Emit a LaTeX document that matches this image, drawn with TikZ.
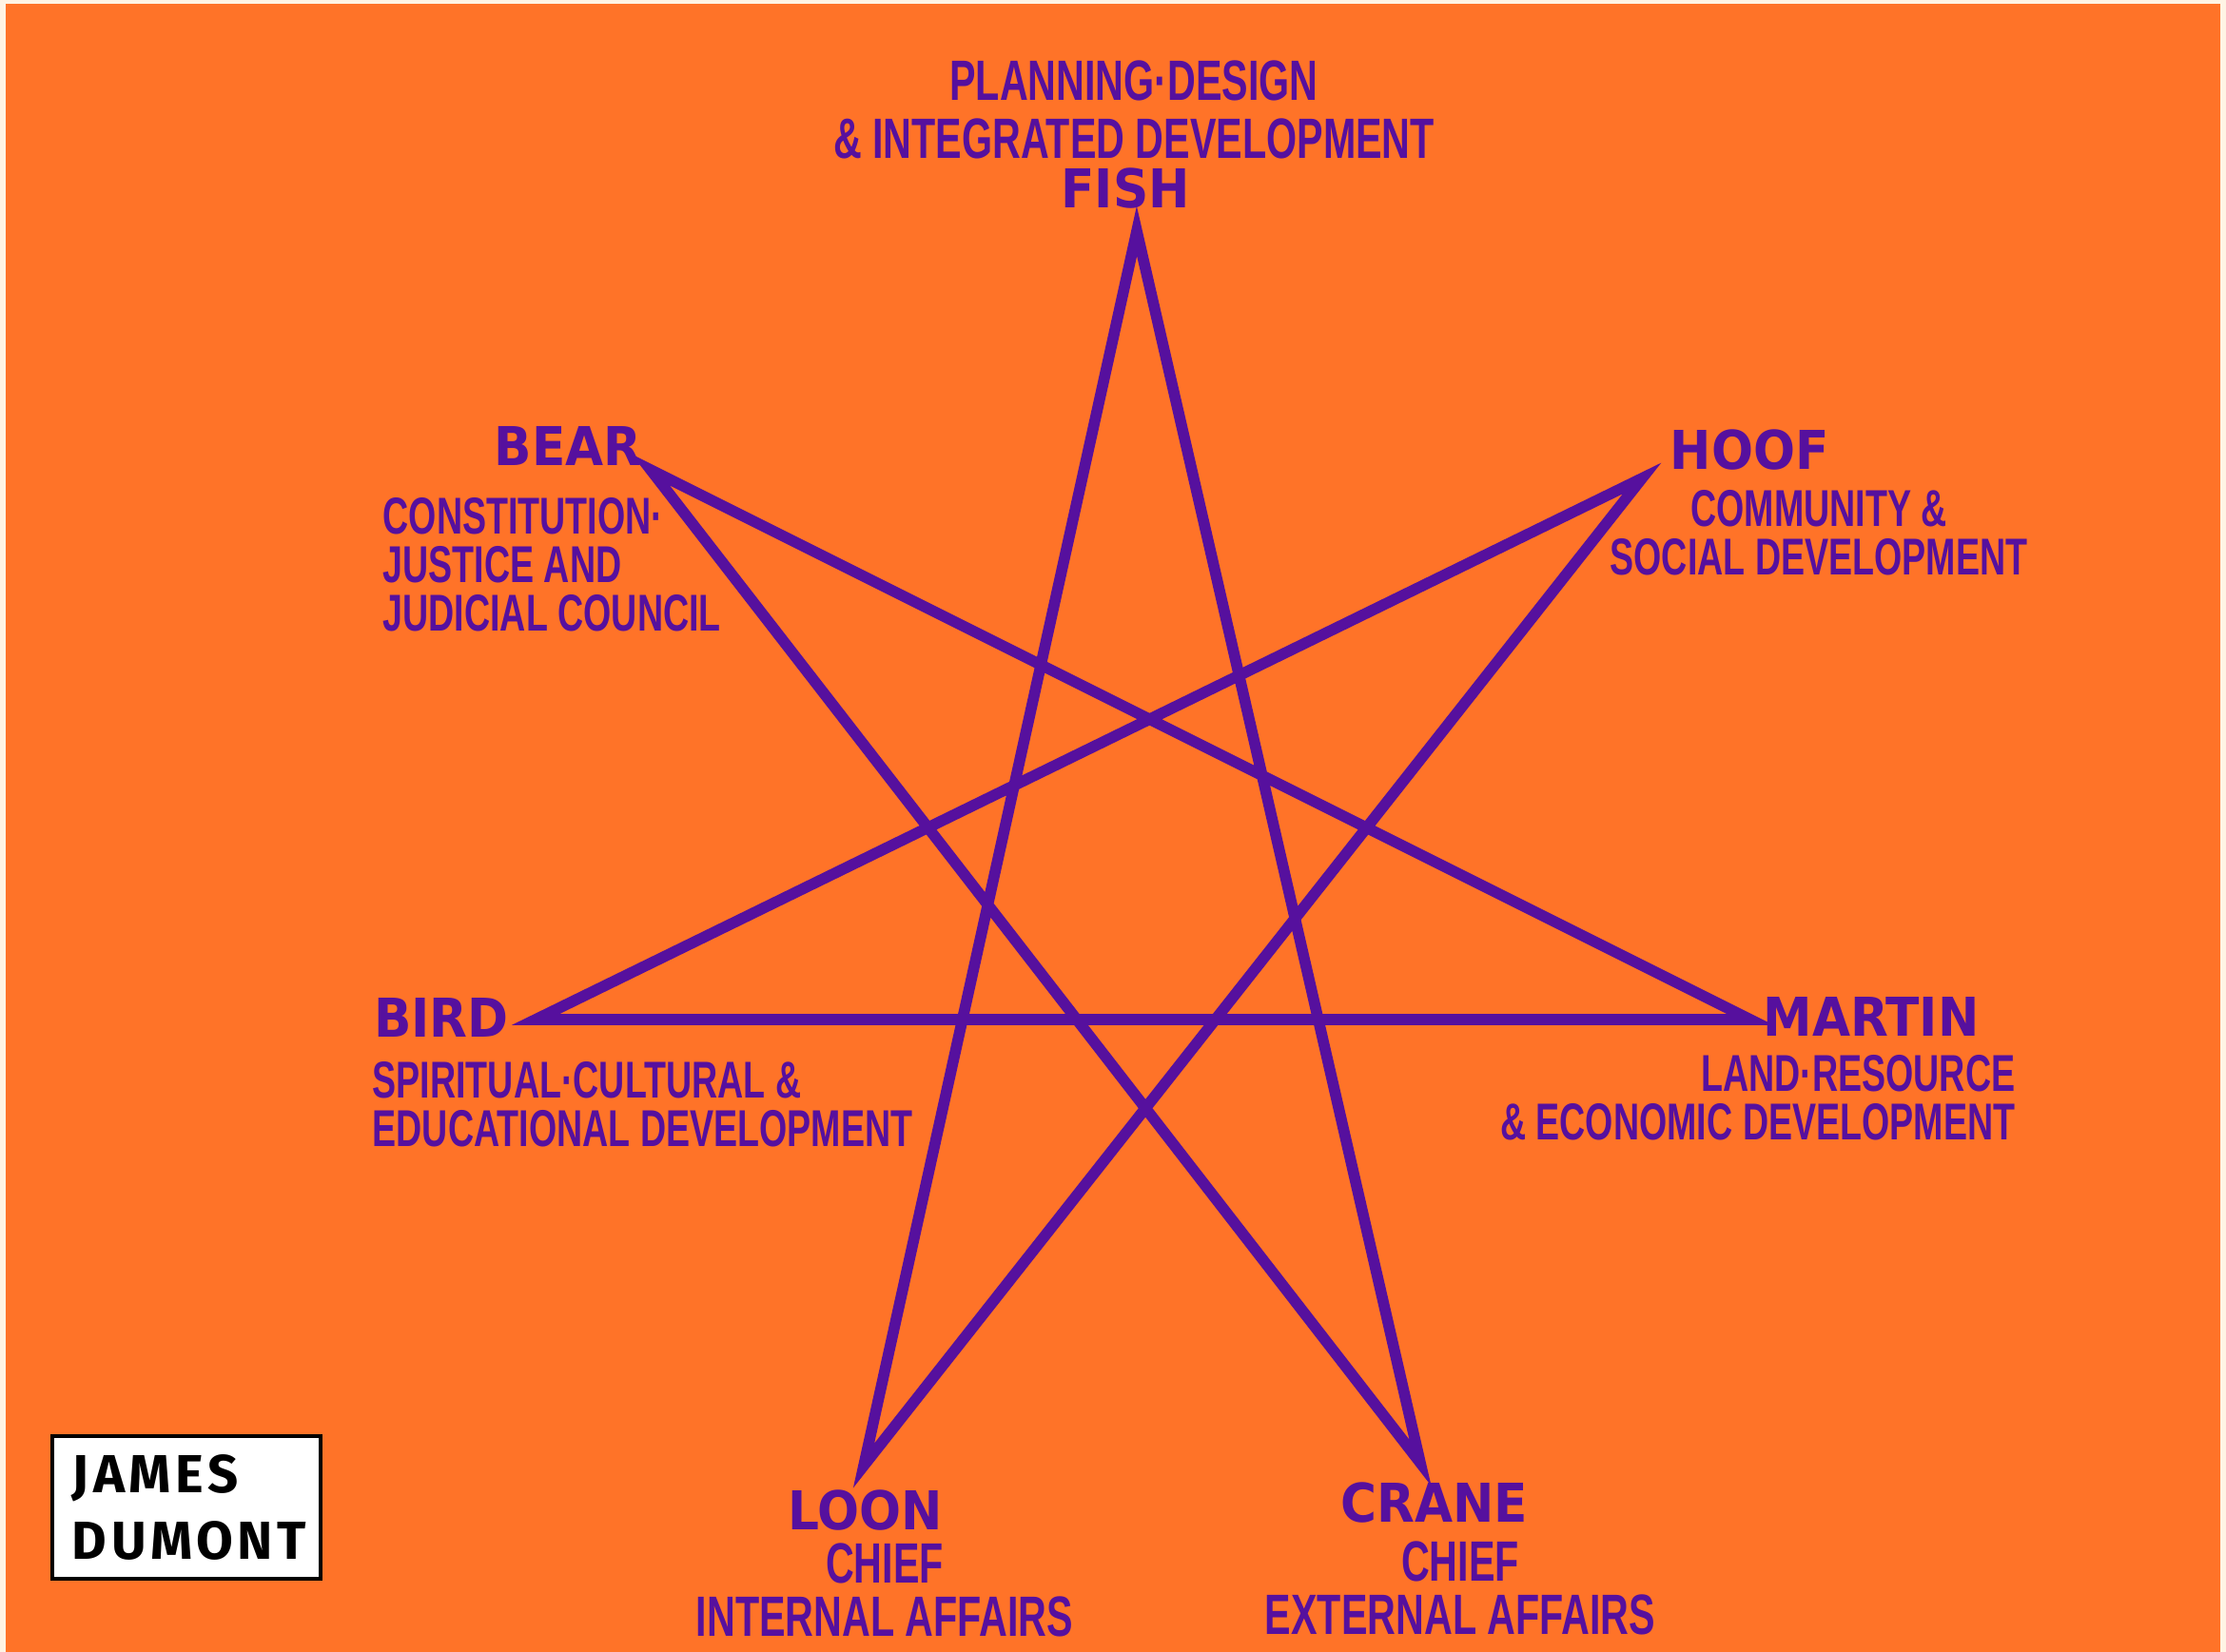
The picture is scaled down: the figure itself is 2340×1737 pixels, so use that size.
\documentclass[tikz,border=0pt]{standalone}
\usepackage{fontspec}
\usepackage{tikz}
\setmainfont{Liberation Sans}
\newfontfamily\namefont[FakeStretch=0.92]{DejaVu Sans}
\newfontfamily\descfont[FakeStretch=0.69]{Liberation Sans}
\newfontfamily\signfont[LetterSpace=8]{Fira Sans}
\definecolor{bgorange}{RGB}{255,115,40}
\definecolor{inkpurple}{RGB}{86,16,158}
\definecolor{edgecream}{RGB}{255,244,228}
\tikzset{
  starline/.style={draw=inkpurple, line width=3.3pt, line join=miter},
  animal/.style={text=inkpurple, inner sep=0pt, font=\namefont\bfseries\fontsize{16}{18}\selectfont},
  duty/.style={text=inkpurple, inner sep=0pt, font=\descfont\bfseries\fontsize{15.5}{14.5}\selectfont},
  bigduty/.style={duty, font=\descfont\bfseries\fontsize{17}{#1}\selectfont},
  signbox/.style={draw=black, line width=1.1pt, fill=white, minimum width=2.82cm, minimum height=1.5cm, inner sep=0pt, align=left, text width=2.4cm, font=\signfont\bfseries\fontsize{16}{20}\selectfont}
}

\begin{document}
\begin{tikzpicture}[x=0.01cm,y=-0.01cm]
    \useasboundingbox (0,0) rectangle (2340,1737);
    % Background
    \fill[edgecream] (0,0) rectangle (2340,1737);
    \fill[bgorange] (6,4) rectangle (2334,1737);
    % Points of the star
    \coordinate (fish) at (1195,243);
    \coordinate (hoof) at (1726,503);
    \coordinate (martin) at (1840,1072);
    \coordinate (crane) at (1493,1538);
    \coordinate (loon) at (908,1541);
    \coordinate (bird) at (563,1072);
    \coordinate (bear) at (684,494);
    \draw[starline] (fish) -- (crane) -- (bear) -- (martin) -- (bird) -- (hoof) -- (loon) -- cycle;
    % Clan names
    \node[animal] (fishname) at (1183,198) {FISH};
    \node[animal] (bearname) at (597,469) {BEAR};
    \node[animal] (hoofname) at (1839,473) {HOOF};
    \node[animal] (birdname) at (464,1070) {BIRD};
    \node[animal] (martinname) at (1967,1069) {MARTIN};
    \node[animal] (loonname) at (910,1588) {LOON};
    \node[animal] (cranename) at (1508,1580) {CRANE};
    % Duties
    \node[bigduty=17.4pt, align=center, anchor=north] (fishduty) at (1192,63) {PLANNING·DESIGN\\\& INTEGRATED DEVELOPMENT};
    \node[duty, align=left, anchor=north west] (bearduty) at (402,523) {CONSTITUTION·\\JUSTICE AND\\JUDICIAL COUNCIL};
    \node[duty, align=center, anchor=north] (hoofduty) at (1912,515) {COMMUNITY \&\\SOCIAL DEVELOPMENT};
    \node[duty, align=left, anchor=north west] (birdduty) at (391,1116) {SPIRITUAL·CULTURAL \&\\EDUCATIONAL DEVELOPMENT};
    \node[duty, align=right, anchor=north east] (martinduty) at (2119,1109) {LAND·RESOURCE\\\& ECONOMIC DEVELOPMENT};
    \node[bigduty=15.9pt, align=center, anchor=north] (loonduty) at (930,1622) {CHIEF\\INTERNAL AFFAIRS};
    \node[bigduty=15.9pt, align=center, anchor=north] (craneduty) at (1535,1620) {CHIEF\\EXTERNAL AFFAIRS};
    % Signature
    \node[signbox] (sign) at (196,1585) {JAMES\\DUMONT};
\end{tikzpicture}
\end{document}
